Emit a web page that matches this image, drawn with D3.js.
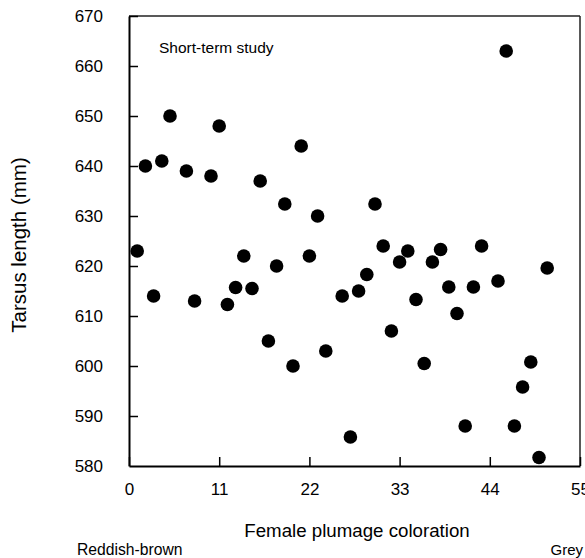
<!DOCTYPE html>
<html>
<head>
<meta charset="utf-8">
<script src="https://cdn.jsdelivr.net/npm/d3@7"></script>
<style>
  body { margin: 0; background: #fff; }
  svg text { font-family: "Liberation Sans", Arial, sans-serif; fill: #000; }
</style>
</head>
<body>
<div id="chart"></div>
<script>
// plumage score (x) and tarsus length (y) for each female
var plumage = [1, 2, 3, 4, 5, 7, 8, 10, 11, 12, 13, 14, 15, 16, 17, 18, 19, 20, 21, 22, 23, 24,
  26, 27, 28, 29, 30, 31, 32, 33, 34, 35, 36, 37, 38, 39, 40, 41, 42, 43, 45, 46, 47, 48, 49, 50, 51];
var tarsus = [623, 640, 614, 641, 650, 639, 613, 638, 648, 612.3, 615.7, 622, 615.5, 637, 605, 620, 632.4, 600, 644, 622, 630, 603,
  614, 585.8, 615, 618.3, 632.4, 624, 607, 620.8, 623, 613.3, 600.5, 620.8, 623.3, 615.8, 610.5, 588, 615.8, 624, 617, 663, 588, 595.8, 600.8, 581.7, 619.6];

var xTicks = [0, 11, 22, 33, 44, 55];
var yTicks = [580, 590, 600, 610, 620, 630, 640, 650, 660, 670];

var width = 585, height = 558;
var margin = { top: 16, right: 5, bottom: 92, left: 129 };

var svg = d3.select("#chart").append("svg")
  .attr("width", width)
  .attr("height", height);

var x = d3.scaleLinear().domain([0, 55]).range([margin.left, width - margin.right]);
var y = d3.scaleLinear().domain([580, 670]).range([height - margin.bottom, margin.top]);

// thin frame on top and right
svg.append("line")
  .attr("x1", x(0)).attr("x2", x(55))
  .attr("y1", y(670)).attr("y2", y(670))
  .attr("stroke", "#222").attr("stroke-width", 1.5);
svg.append("line")
  .attr("x1", x(55)).attr("x2", x(55))
  .attr("y1", y(670)).attr("y2", y(580))
  .attr("stroke", "#222").attr("stroke-width", 1.5);

// x axis
var gx = svg.append("g")
  .attr("transform", "translate(0," + y(580) + ")")
  .call(d3.axisBottom(x).tickValues(xTicks).tickSizeInner(-9).tickSizeOuter(0).tickPadding(17));

// y axis
var gy = svg.append("g")
  .attr("transform", "translate(" + x(0) + ",0)")
  .call(d3.axisLeft(y).tickValues(yTicks).tickSizeInner(-9).tickSizeOuter(0).tickPadding(26));

[gx, gy].forEach(function(g) {
  g.select(".domain").attr("stroke", "#000").attr("stroke-width", 2);
  g.selectAll(".tick line").attr("stroke", "#000").attr("stroke-width", 1.5);
  g.selectAll(".tick text")
    .style("font-family", "'Liberation Sans', Arial, sans-serif")
    .style("font-size", "17px");
});
gy.selectAll(".tick").filter(function(d) { return d == 580; }).select("line").remove();

// points
svg.selectAll("circle.dataPoint")
  .data(plumage)
  .enter().append("circle")
  .attr("class", "dataPoint")
  .attr("cx", function(d) { return x(d); })
  .attr("cy", function(d, i) { return y(tarsus[i]); })
  .attr("r", 6.8)
  .attr("fill", "#000");

// labels
svg.append("text")
  .attr("x", 159).attr("y", 53)
  .style("font-size", "15.5px")
  .text("Short-term study");

svg.append("text")
  .attr("x", 357).attr("y", 537)
  .attr("text-anchor", "middle")
  .style("font-size", "18.7px")
  .text("Female plumage coloration");

svg.append("text")
  .attr("transform", "translate(26," + 245 + ") rotate(-90)")
  .attr("text-anchor", "middle")
  .style("font-size", "20.5px")
  .text("Tarsus length (mm)");

svg.append("text")
  .attr("x", 77).attr("y", 555)
  .style("font-size", "15.7px")
  .text("Reddish-brown");

svg.append("text")
  .attr("x", 583).attr("y", 555)
  .attr("text-anchor", "end")
  .style("font-size", "15px")
  .text("Grey");
</script>
</body>
</html>
